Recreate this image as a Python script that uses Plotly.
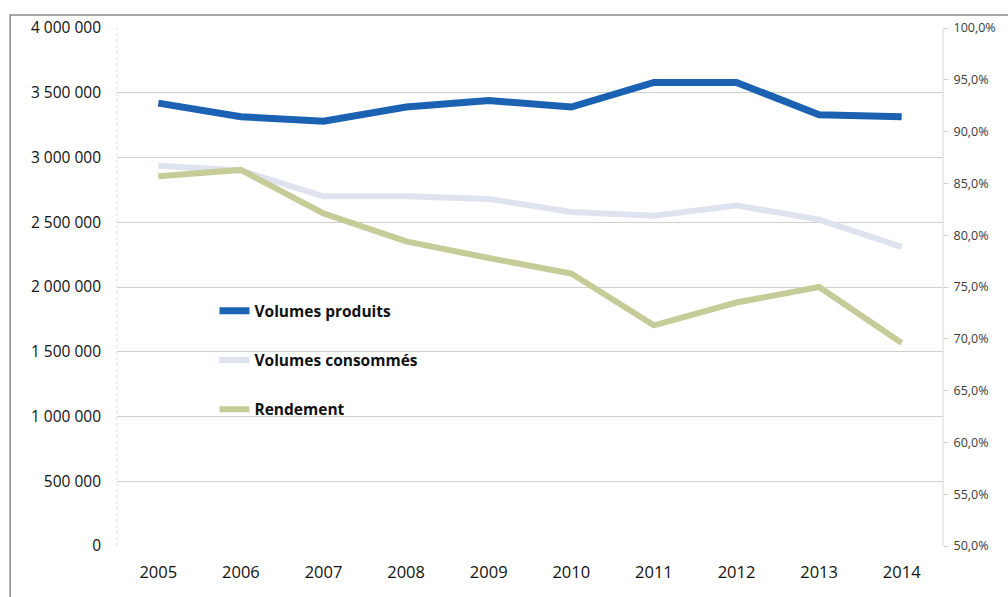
import plotly.graph_objects as go

# Production / consumption volumes (m3) and network yield, 2005-2014
annees = ["2005", "2006", "2007", "2008", "2009", "2010", "2011", "2012", "2013", "2014"]
volumes_produits = [3420000, 3315000, 3280000, 3390000, 3440000, 3390000, 3580000, 3580000, 3330000, 3315000]
volumes_consommes = [2937000, 2900000, 2700000, 2700000, 2680000, 2580000, 2550000, 2630000, 2520000, 2310000]
rendement = [0.857, 0.863, 0.821, 0.794, 0.778, 0.763, 0.713, 0.735, 0.750, 0.696]

left_ticks = [0, 500000, 1000000, 1500000, 2000000, 2500000, 3000000, 3500000, 4000000]
right_ticks = [0.50, 0.55, 0.60, 0.65, 0.70, 0.75, 0.80, 0.85, 0.90, 0.95, 1.00]

FONT = "Open Sans"

fig = go.Figure()
fig.add_trace(go.Scatter(
    x=annees, y=volumes_produits, name="Volumes produits", mode="lines",
    line=dict(color="#1b62b3", width=7), legendgroup="a",
))
fig.add_trace(go.Scatter(
    x=annees, y=volumes_consommes, name="Volumes consommés", mode="lines",
    line=dict(color="#dfe3ef", width=6), legendgroup="b",
))
fig.add_trace(go.Scatter(
    x=annees, y=rendement, name="Rendement", mode="lines", yaxis="y2",
    line=dict(color="#c5cc98", width=6), legendgroup="c",
))

fig.update_layout(
    width=1008, height=597,
    margin=dict(l=117, r=56, t=28, b=51),
    paper_bgcolor="white", plot_bgcolor="white",
    separators=", ",
    font=dict(family=FONT, color="#1a1a1a"),
    xaxis=dict(
        type="category", range=[-0.5, 9.5], showgrid=False, zeroline=False,
        showline=False, ticks="", tickfont=dict(size=16.5, color="#111111"),
        ticklabelstandoff=14,
    ),
    yaxis=dict(
        range=[0, 4000000], tickvals=left_ticks, tickformat=",d",
        showgrid=True, gridcolor="#cfcfcf", gridwidth=1, zeroline=False,
        showline=False, ticks="", tickfont=dict(size=15.5, color="#111111"),
        ticklabelstandoff=15,
    ),
    yaxis2=dict(
        overlaying="y", side="right", range=[0.5, 1.0], tickvals=right_ticks,
        tickformat=".1%", showgrid=False, zeroline=False, showline=False,
        ticks="outside", ticklen=4, tickcolor="#d0d0d0",
        tickfont=dict(size=12.5, color="#3a3a3a"), ticklabelstandoff=3,
    ),
    legend=dict(
        x=0.118, y=0.486, xanchor="left", yanchor="top",
        bgcolor="rgba(0,0,0,0)", itemwidth=30, tracegroupgap=26,
        font=dict(family=FONT, size=15.5, color="#111111", weight="bold"),
    ),
    shapes=[
        # plot-area side lines
        dict(type="line", xref="paper", yref="paper", x0=0, x1=0, y0=0, y1=1,
             line=dict(color="#dedede", width=1, dash="dot")),
        dict(type="line", xref="paper", yref="paper", x0=1, x1=1, y0=0, y1=1,
             line=dict(color="#d8d8d8", width=1)),
        # outer chart frame
        dict(type="rect", xref="paper", yref="paper",
             x0=-108 / 835, x1=1.2, y0=-0.2, y1=(546 - 15) / 518,
             line=dict(color="#8a8a8a", width=1.5), fillcolor="rgba(0,0,0,0)",
             layer="below"),
    ],
)

fig.write_html("out.html")
